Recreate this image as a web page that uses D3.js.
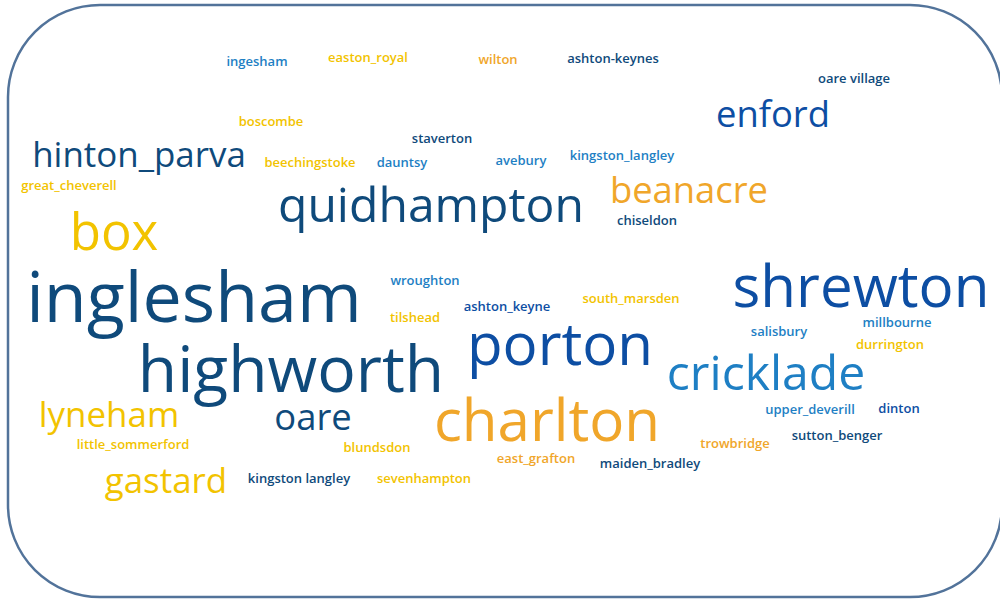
<!DOCTYPE html>
<html>
<head>
<meta charset="utf-8">
<script src="https://cdn.jsdelivr.net/npm/d3@7"></script>
<style>
    html, body { margin: 0; padding: 0; background: #ffffff; }
    svg { display: block; }
</style>
</head>
<body>
<div class="cloud-container"></div>
<script>
// word list, one entry per place name
const words = [
    "inglesham", "highworth", "quidhampton", "shrewton", "porton", "charlton",
    "cricklade", "box", "hinton_parva", "enford", "beanacre", "lyneham", "gastard", "oare",
    "ingesham", "easton_royal", "wilton", "ashton-keynes", "oare village", "boscombe",
    "staverton", "beechingstoke", "dauntsy", "avebury", "kingston_langley", "great_cheverell",
    "chiseldon", "wroughton", "ashton_keyne", "south_marsden", "tilshead", "salisbury",
    "millbourne", "durrington", "little_sommerford", "blundsdon", "upper_deverill", "dinton",
    "trowbridge", "sutton_benger", "east_grafton", "maiden_bradley", "kingston langley", "sevenhampton"
];

// relative frequency of each word (drives the font size)
const weights = [
    40, 36, 25, 32, 32, 32,
    25, 27, 16, 17, 17, 16, 16, 17,
    1, 1, 1, 1, 1, 1,
    1, 1, 1, 1, 1, 1,
    1, 1, 1, 1, 1, 1,
    1, 1, 1, 1, 1, 1,
    1, 1, 1, 1, 1, 1
];

// colour group: 0 navy, 1 royal blue, 2 light blue, 3 orange, 4 yellow
const groups = [
    0, 0, 0, 1, 1, 3,
    2, 4, 0, 1, 3, 4, 4, 0,
    2, 4, 3, 0, 0, 4,
    0, 4, 2, 2, 2, 4,
    0, 2, 1, 4, 4, 2,
    2, 4, 4, 4, 2, 1,
    3, 0, 3, 0, 0, 4
];

// cloud layout: word centre and baseline, in cloud units
const layoutX = [
    194, 291, 431, 861, 560, 547,
    766, 114, 139, 773, 689, 109, 166, 313,
    257, 368, 498, 613, 854, 271,
    442, 310, 402, 521, 622, 69,
    647, 425, 507, 631, 415, 779,
    897, 890, 133, 377, 810, 899,
    735, 837, 536, 650, 299, 424
];
const layoutY = [
    322, 392, 222, 307, 365, 441,
    390, 250, 167, 127, 203, 427, 493, 430,
    66, 62, 64, 63, 83, 126,
    143, 167, 167, 165, 160, 190,
    225, 285, 311, 303, 322, 336,
    327, 349, 449, 452, 414, 413,
    448, 440, 463, 468, 483, 483
];

const palette = ["#0f4a7b", "#0d4ea3", "#1e7fc4", "#f0a62a", "#f2c300"];

const width = 1000;
const height = 601;

const svg = d3.select(".cloud-container").append("svg")
    .attr("width", width)
    .attr("height", height);

// rounded frame round the cloud
svg.append("rect")
    .attr("x", 8)
    .attr("y", 5)
    .attr("width", 994)
    .attr("height", 592)
    .attr("rx", 92)
    .attr("ry", 92)
    .style("fill", "#ffffff")
    .style("stroke", "#52739a")
    .style("stroke-width", 2.5);

const xScale = d3.scaleLinear().domain([0, 1000]).range([0, width]);
const yScale = d3.scaleLinear().domain([0, 601]).range([0, height]);
const sizeScale = d3.scaleLinear().domain([1, 40]).range([13, 70]);
const colorScale = d3.scaleOrdinal().domain(d3.range(palette.length)).range(palette);

const data = words.map((w, i) => ({
    text: w,
    weight: weights[i],
    group: groups[i],
    x: layoutX[i],
    y: layoutY[i]
}));

svg.append("g")
    .attr("class", "words")
    .selectAll("text")
    .data(data)
    .enter().append("text")
    .attr("x", d => xScale(d.x))
    .attr("y", d => yScale(d.y))
    .attr("text-anchor", "middle")
    .style("font-family", "'Open Sans', 'Noto Sans', sans-serif")
    .style("font-size", d => sizeScale(d.weight) + "px")
    .style("font-weight", d => d.weight < 5 ? 600 : 400)
    .style("fill", d => colorScale(d.group))
    .text(d => d.text);
</script>
</body>
</html>
